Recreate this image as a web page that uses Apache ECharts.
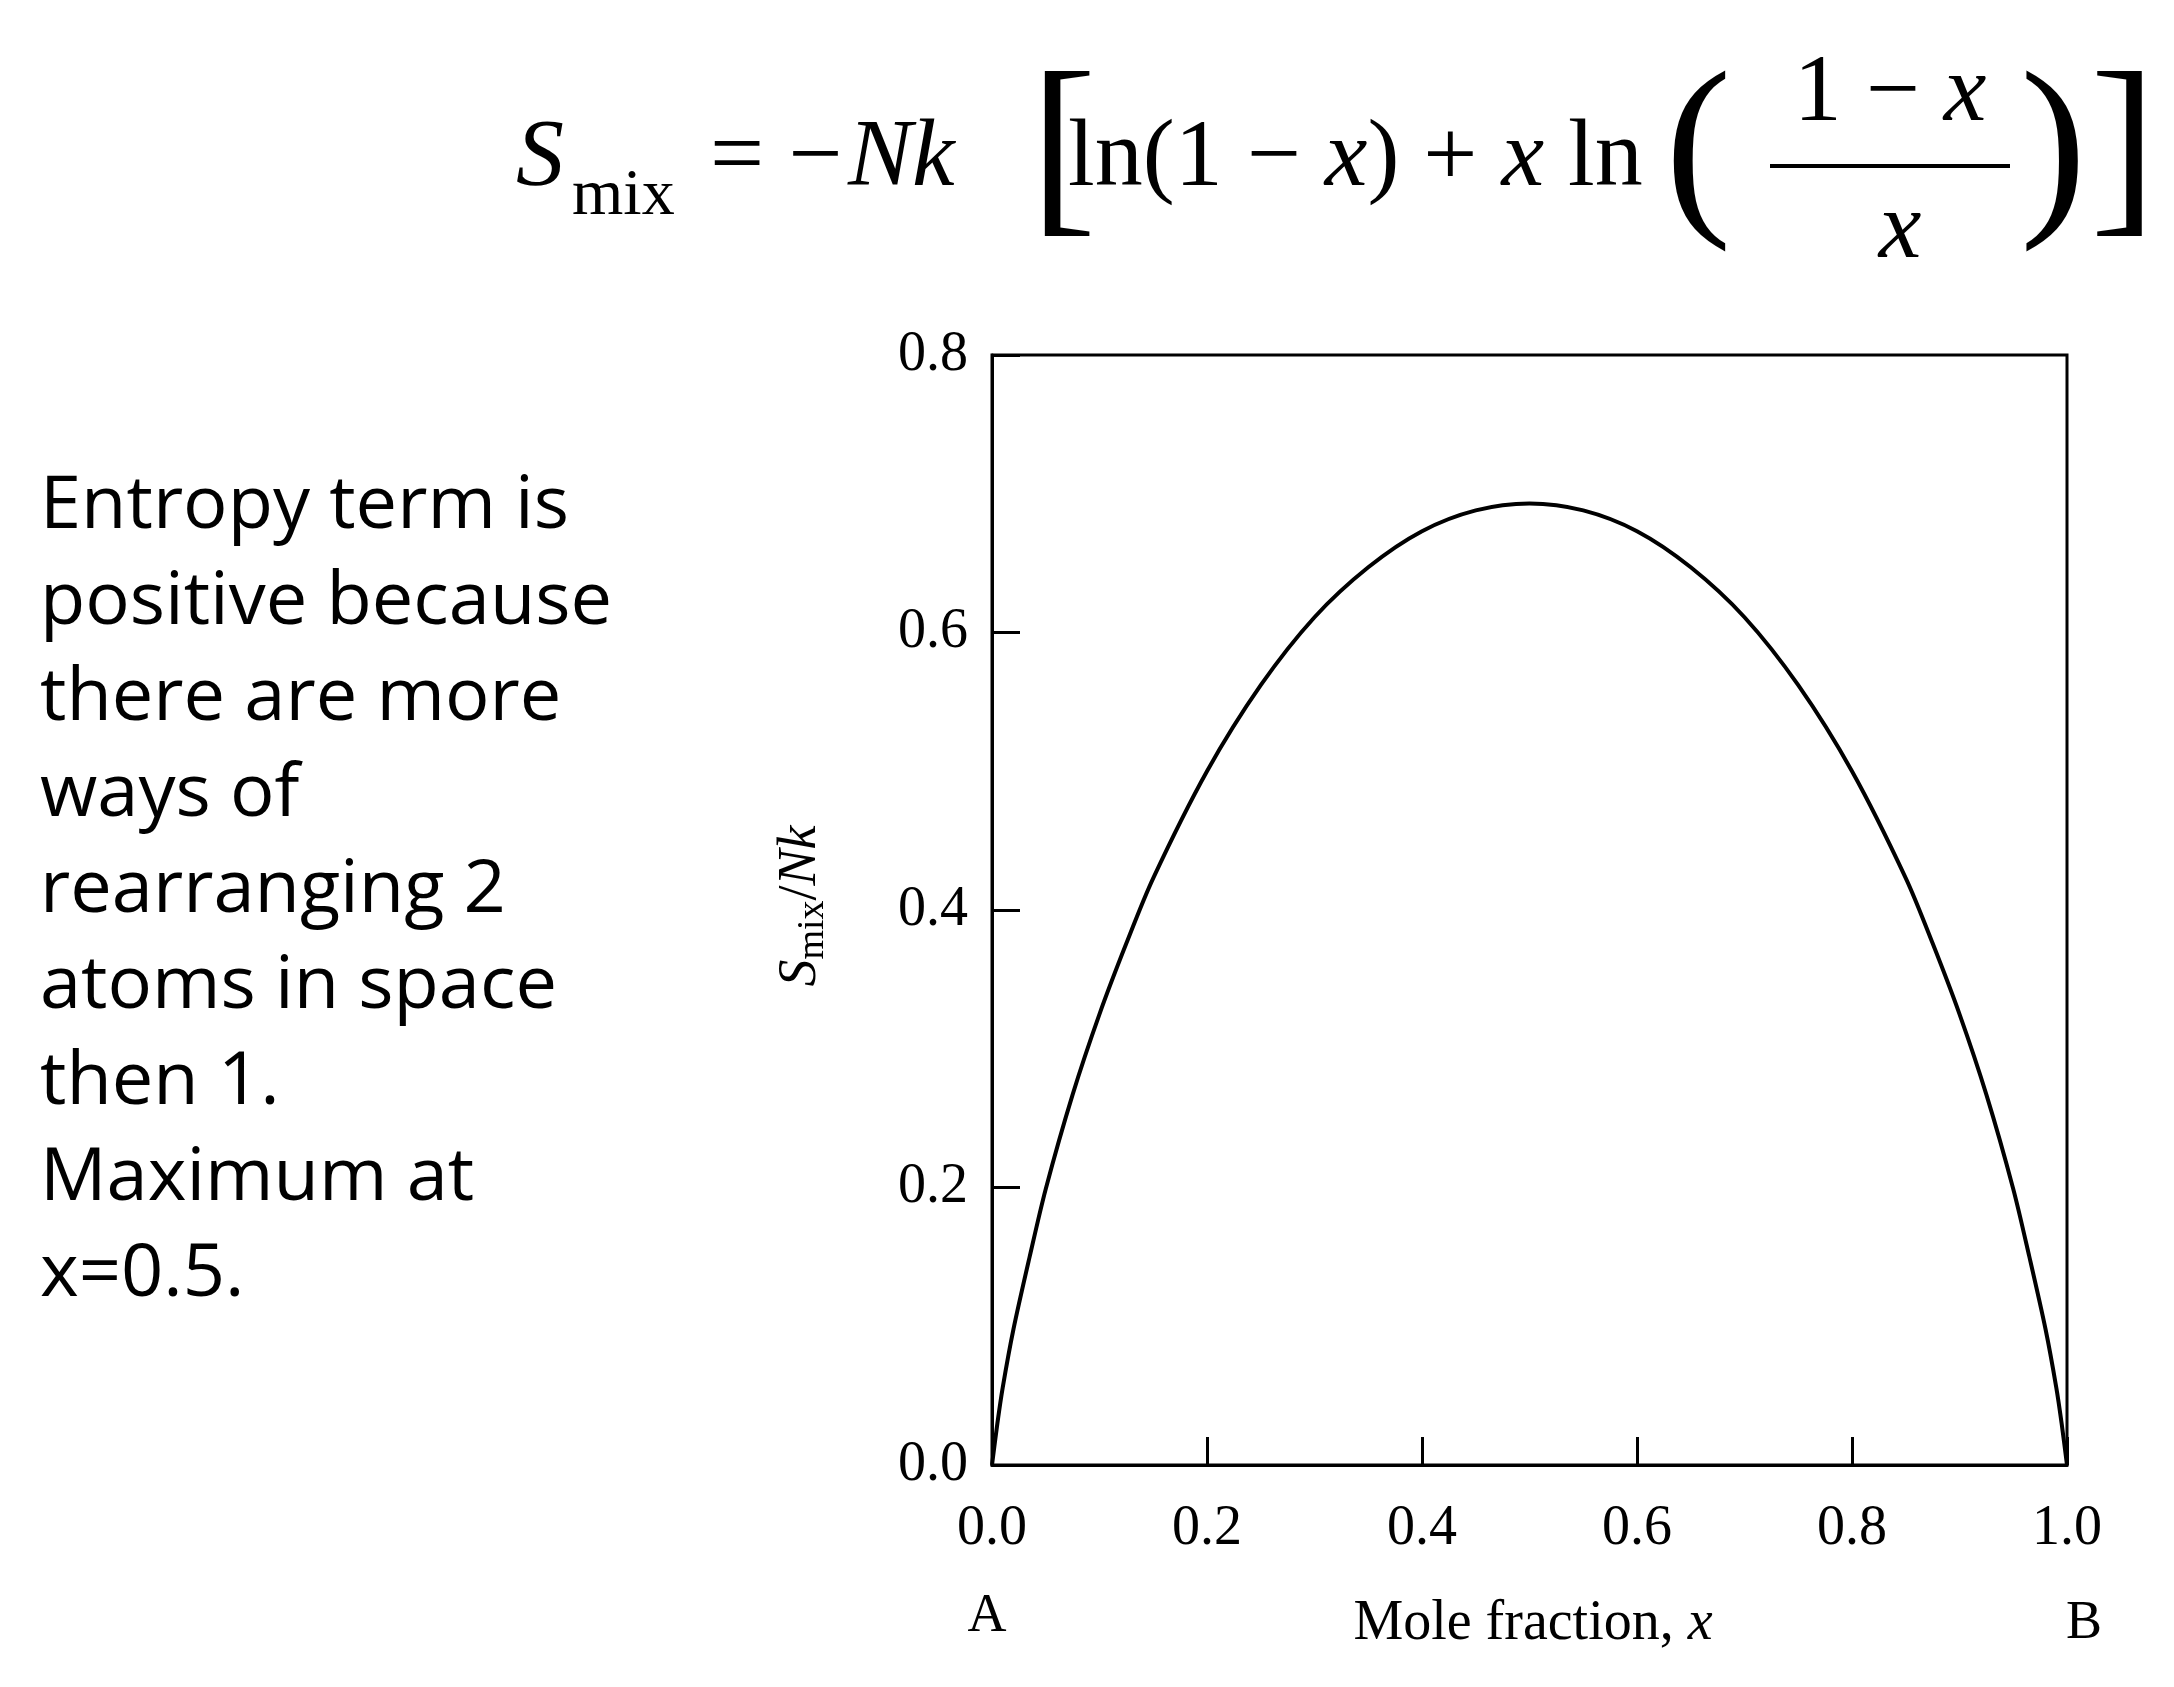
<!DOCTYPE html>
<html>
<head>
<meta charset="utf-8">
<script src="https://cdn.jsdelivr.net/npm/echarts@6/dist/echarts.min.js"></script>
<style>html,body{margin:0;background:#fff}#c{width:2174px;height:1687px}</style>
</head>
<body>
<div id="c"></div>
<script>
const xValues = [0, 0.005, 0.01, 0.02, 0.035, 0.05, 0.075, 0.1, 0.125, 0.15, 0.2, 0.25, 0.3, 0.35, 0.4, 0.45, 0.5, 0.55, 0.6, 0.65, 0.7, 0.75, 0.8, 0.85, 0.875, 0.9, 0.925, 0.95, 0.965, 0.98, 0.99, 0.995, 1]
const sValues = [0, 0.03, 0.056, 0.098, 0.15, 0.199, 0.267, 0.325, 0.376, 0.423, 0.5, 0.562, 0.611, 0.647, 0.673, 0.688, 0.693, 0.688, 0.673, 0.647, 0.611, 0.562, 0.5, 0.423, 0.376, 0.325, 0.267, 0.199, 0.15, 0.098, 0.056, 0.03, 0]
const xTicks = [0, 0.2, 0.4, 0.6, 0.8, 1.0]
const yTicks = [0, 0.2, 0.4, 0.6, 0.8]
const noteLines = ['Entropy term is', 'positive because', 'there are more', 'ways of', 'rearranging 2', 'atoms in space', 'then 1.', 'Maximum at', 'x=0.5.']

const chart = echarts.init(document.getElementById('c'))
const serif = 'Liberation Serif'
const fs = 96
const eqY = 174

const graphic = [
	{ type: 'text', left: 516, top: eqY - 62, style: { text: 'S', font: `italic ${fs}px ${serif}`, fill: '#000' } },
	{ type: 'text', left: 572, top: eqY - 10, style: { text: 'mix', font: `66px ${serif}`, fill: '#000' } },
	{ type: 'text', left: 710, top: eqY - 62, style: { text: '= −', font: `${fs}px ${serif}`, fill: '#000' } },
	{ type: 'text', left: 848, top: eqY - 62, style: { text: 'Nk', font: `italic ${fs}px ${serif}`, fill: '#000' } },
	{ type: 'text', left: 1030, top: eqY - 118, style: { text: '[', font: `200px ${serif}`, fill: '#000' } },
	{ type: 'text', left: 1068, top: eqY - 62, style: { rich: { n: { font: `${fs}px ${serif}` }, i: { font: `italic ${fs}px ${serif}` } }, text: '{n|ln(1 − }{i|x}{n|) + }{i|x}{n| ln}', fill: '#000' } },
	{ type: 'text', left: 1665, top: eqY - 118, style: { text: '(', font: `200px ${serif}`, fill: '#000' } },
	{ type: 'text', x: 1890, y: 95, style: { rich: { n: { font: `${fs}px ${serif}` }, i: { font: `italic ${fs}px ${serif}` } }, text: '{n|1 − }{i|x}', align: 'center', verticalAlign: 'middle', fill: '#000' } },
	{ type: 'line', shape: { x1: 1770, y1: 166, x2: 2010, y2: 166 }, style: { stroke: '#000', lineWidth: 4 } },
	{ type: 'text', x: 1900, y: 232, style: { text: 'x', font: `italic ${fs}px ${serif}`, align: 'center', verticalAlign: 'middle', fill: '#000' } },
	{ type: 'text', left: 2020, top: eqY - 118, style: { text: ')', font: `200px ${serif}`, fill: '#000' } },
	{ type: 'text', left: 2090, top: eqY - 118, style: { text: ']', font: `200px ${serif}`, fill: '#000' } },
	{ type: 'text', x: 987, y: 1617, style: { text: 'A', font: `54px ${serif}`, align: 'center', verticalAlign: 'middle', fill: '#000' } },
	{ type: 'text', x: 2084, y: 1624, style: { text: 'B', font: `54px ${serif}`, align: 'center', verticalAlign: 'middle', fill: '#000' } },
	{ type: 'text', x: 1533, y: 1624, style: { rich: { n: { font: `56px ${serif}` }, i: { font: `italic 56px ${serif}` } }, text: '{n|Mole fraction, }{i|x}', align: 'center', verticalAlign: 'middle', fill: '#000' } },
	{ type: 'text', x: 801, y: 906, rotation: Math.PI / 2, style: { rich: { i: { font: `italic 54px ${serif}` }, s: { font: `38px ${serif}`, padding: [24, 0, 0, 0] }, n: { font: `54px ${serif}` } }, text: '{i|S}{s|mix}{n|/}{i|Nk}', align: 'center', verticalAlign: 'middle', fill: '#000' } },
]
noteLines.forEach((t, i) => {
	graphic.push({ type: 'text', left: 40, top: 470 + i * 96, style: { text: t, font: '74px "Open Sans"', fill: '#000' } })
})

chart.setOption({
	animation: false,
	backgroundColor: '#fff',
	grid: { left: 992, right: 107, top: 355, bottom: 222, show: true, borderColor: '#000', borderWidth: 3 },
	xAxis: {
		type: 'value', min: 0, max: 1, interval: 0.2,
		axisLine: { lineStyle: { color: '#000', width: 3 } },
		axisTick: { inside: true, length: 28, lineStyle: { color: '#000', width: 3 } },
		axisLabel: { color: '#000', fontFamily: serif, fontSize: 56, margin: 36, formatter: v => v.toFixed(1) },
		splitLine: { show: false },
	},
	yAxis: {
		type: 'value', min: 0, max: 0.8, interval: 0.2,
		axisLine: { show: true, lineStyle: { color: '#000', width: 3 } },
		axisTick: { show: true, inside: true, length: 28, lineStyle: { color: '#000', width: 3 } },
		axisLabel: { color: '#000', fontFamily: serif, fontSize: 56, margin: 24, formatter: v => v.toFixed(1) },
		splitLine: { show: false },
	},
	series: [{
		type: 'line', smooth: 0.3, symbol: 'none',
		data: xValues.map((x, i) => [x, sValues[i]]),
		lineStyle: { color: '#000', width: 4 },
	}],
	graphic,
})
</script>
</body>
</html>
